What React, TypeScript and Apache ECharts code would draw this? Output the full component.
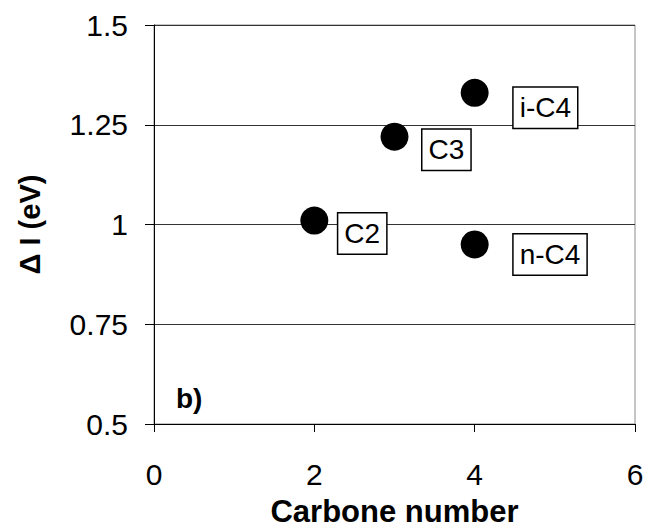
import React, { useEffect, useRef } from "react";
import * as echarts from "echarts";

const names = ["C2", "C3", "i-C4", "n-C4"];
const carbonNumbers = [2, 3, 4, 4];
const deltaI = [1.01, 1.22, 1.33, 0.95];
// label box placement relative to each marker: [distance, dy]
const labelPlacement = [
  [10, 13],
  [14, 13],
  [25, 15],
  [25, 10],
];
const xTicks = { min: 0, max: 6, interval: 2 };
const yTicks = { min: 0.5, max: 1.5, interval: 0.25 };

const FONT = "'Liberation Sans', Arial, sans-serif";

export default function App() {
  const ref = useRef<HTMLDivElement>(null);
  useEffect(() => {
    if (!ref.current) return;
    const chart = echarts.init(ref.current, null, { renderer: "svg" });
    chart.setOption({
      animation: false,
      backgroundColor: "#fff",
      grid: {
        left: 154,
        right: 16,
        top: 25,
        bottom: 108,
        show: true,
        borderColor: "#8a8a8a",
        borderWidth: 1,
      },
      xAxis: {
        type: "value",
        min: xTicks.min,
        max: xTicks.max,
        interval: xTicks.interval,
        name: "Carbone number",
        nameLocation: "middle",
        nameGap: 72,
        nameTextStyle: { fontFamily: FONT, fontSize: 31, fontWeight: "bold", color: "#000" },
        axisLine: { show: true, lineStyle: { color: "#000", width: 1 } },
        axisTick: { show: true, inside: false, length: 8, lineStyle: { color: "#000" } },
        axisLabel: { fontFamily: FONT, fontSize: 30, color: "#000", margin: 35 },
        splitLine: { show: false },
      },
      yAxis: {
        type: "value",
        min: yTicks.min,
        max: yTicks.max,
        interval: yTicks.interval,
        name: "\u0394 I (eV)",
        nameLocation: "middle",
        nameRotate: 90,
        nameGap: 110,
        nameTextStyle: { fontFamily: FONT, fontSize: 29, fontWeight: "bold", color: "#000" },
        axisLine: { show: true, lineStyle: { color: "#000", width: 1 } },
        axisTick: { show: true, inside: false, length: 9, lineStyle: { color: "#000" } },
        axisLabel: { fontFamily: FONT, fontSize: 30, color: "#000", margin: 26 },
        splitLine: { show: true, lineStyle: { color: "#333", width: 1 } },
      },
      series: [
        {
          type: "scatter",
          symbol: "circle",
          symbolSize: 28,
          itemStyle: { color: "#000", opacity: 1 },
          data: names.map((n, i) => ({
            value: [carbonNumbers[i], deltaI[i]],
            name: n,
            label: {
              show: true,
              position: "right",
              distance: labelPlacement[i][0],
              offset: [0, labelPlacement[i][1]],
              formatter: n,
              fontFamily: FONT,
              fontSize: 28,
              color: "#000",
              opacity: 1,
              backgroundColor: "#fff",
              borderColor: "#000",
              borderWidth: 1.5,
              padding: [7, 6, 5, 6],
            },
          })),
        },
      ],
      graphic: [
        {
          type: "text",
          left: 176,
          top: 384,
          style: { text: "b)", fontFamily: FONT, fontSize: 28, fontWeight: "bold", fill: "#000" },
        },
      ],
    });
    return () => chart.dispose();
  }, []);
  return (
    <div
      ref={ref}
      style={{ position: "fixed", left: 0, top: 0, width: 651, height: 532 }}
    />
  );
}
